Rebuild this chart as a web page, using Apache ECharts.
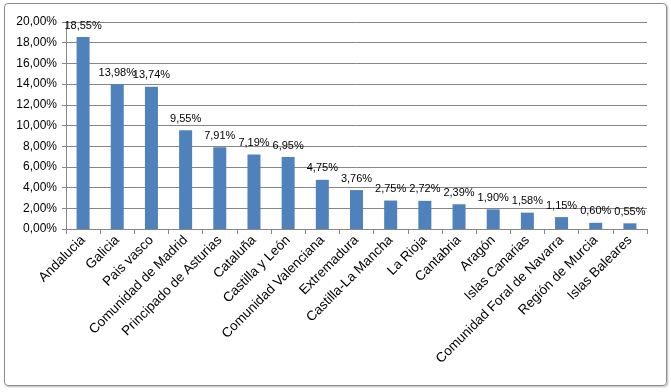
<!DOCTYPE html>
<html><head><meta charset="utf-8">
<script src="https://cdn.jsdelivr.net/npm/echarts@6/dist/echarts.min.js"></script>
<style>html,body{margin:0;padding:0;background:#fff}#c{width:671px;height:392px}
#frame{position:absolute;left:4px;top:3px;width:661px;height:381px;border:1.5px solid #8c8c8c;border-radius:4px;box-shadow:1px 1px 2px #bbb;pointer-events:none}</style>
</head><body><div id="c"></div><div id="frame"></div>
<script>
const categories = ["Andalucia","Galicia","Pais vasco","Comunidad de Madrid","Principado de Asturias","Cataluña","Castilla y León","Comunidad Valenciana","Extremadura","Castilla-La Mancha","La Rioja","Cantabria","Aragón","Islas Canarias","Comunidad Foral de Navarra","Región de Murcia","Islas Baleares"];
const values = [18.55,13.98,13.74,9.55,7.91,7.19,6.95,4.75,3.76,2.75,2.72,2.39,1.90,1.58,1.15,0.60,0.55];
const fmt = v => v.toFixed(2).replace('.', ',') + '%';
const chart = echarts.init(document.getElementById('c'));
chart.setOption({
  animation:false,
  grid:{left:66,right:24,top:22,bottom:163},
  xAxis:{type:'category',data:categories,
    axisLine:{lineStyle:{color:'#868686'}},
    axisTick:{show:true,alignWithLabel:false,length:5,lineStyle:{color:'#868686'}},
    axisLabel:{rotate:45,interval:0,color:'#000',fontFamily:'Liberation Sans',fontSize:13.5,margin:9}},
  yAxis:{type:'value',min:0,max:20,interval:2,
    axisLine:{show:true,lineStyle:{color:'#868686'}},
    axisTick:{show:true,length:4,lineStyle:{color:'#868686'}},
    splitLine:{lineStyle:{color:'#868686',width:1}},
    axisLabel:{formatter:v=>fmt(v),color:'#000',fontFamily:'Liberation Sans',fontSize:12,margin:9}},
  series:[{type:'bar',data:values,barWidth:13,
    itemStyle:{color:'#4F81BD'},
    label:{show:true,position:'top',distance:6,formatter:p=>fmt(p.value),color:'#000',fontFamily:'Liberation Sans',fontSize:11}}]
});
</script></body></html>
